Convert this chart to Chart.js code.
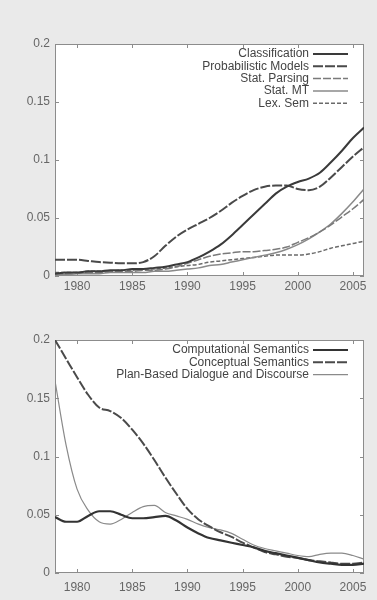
<!DOCTYPE html>
<html>
<head>
<meta charset="utf-8">
<script src="https://cdn.jsdelivr.net/npm/chart.js@4.4.1/dist/chart.umd.min.js"></script>
<style>
  html, body { margin: 0; padding: 0; background: #eaeaea; }
  .box { position: absolute; left: 0; width: 377px; height: 300px; }
  #top { top: 0; }
  #bottom { top: 300px; }
</style>
</head>
<body>
<div class="box" id="top"><canvas id="c1" width="377" height="300"></canvas></div>
<div class="box" id="bottom"><canvas id="c2" width="377" height="300"></canvas></div>
<script>
// years shared by both panels
const years = [1978,1979,1980,1981,1982,1983,1984,1985,1986,1987,1988,1989,1990,1991,1992,
  1993,1994,1995,1996,1997,1998,1999,2000,2001,2002,2003,2004,2005,2006];
const xTicks = [1980, 1985, 1990, 1995, 2000, 2005];
const yTicks = [0, 0.05, 0.1, 0.15, 0.2];

// top panel
const classification = [0.002,0.003,0.003,0.004,0.004,0.005,0.005,0.006,0.006,0.007,0.008,0.010,0.012,0.016,0.021,
  0.027,0.035,0.044,0.053,0.062,0.071,0.077,0.081,0.084,0.089,0.098,0.108,0.119,0.128];
const probModels = [0.014,0.014,0.014,0.013,0.012,0.0115,0.011,0.011,0.012,0.017,0.026,0.034,0.040,0.045,0.050,
  0.056,0.063,0.069,0.074,0.077,0.078,0.078,0.075,0.074,0.077,0.085,0.094,0.103,0.111];
const statParsing = [0.002,0.002,0.003,0.003,0.003,0.004,0.004,0.004,0.005,0.005,0.006,0.008,0.011,0.014,0.017,
  0.019,0.020,0.021,0.021,0.022,0.023,0.025,0.029,0.033,0.038,0.044,0.051,0.058,0.066];
const statMT = [0.001,0.001,0.002,0.002,0.002,0.003,0.003,0.003,0.003,0.004,0.004,0.005,0.006,0.007,0.009,
  0.010,0.012,0.014,0.016,0.018,0.020,0.023,0.027,0.032,0.038,0.045,0.054,0.064,0.075];
const lexSem = [0.003,0.003,0.003,0.004,0.004,0.004,0.005,0.005,0.006,0.006,0.007,0.008,0.009,0.010,0.012,
  0.013,0.014,0.015,0.016,0.017,0.018,0.018,0.018,0.019,0.021,0.024,0.026,0.028,0.030];

// bottom panel
const compSem = [0.048,0.044,0.044,0.049,0.053,0.053,0.050,0.047,0.047,0.048,0.049,0.045,0.039,0.034,0.030,
  0.028,0.026,0.024,0.022,0.019,0.017,0.015,0.013,0.011,0.009,0.008,0.007,0.007,0.008];
const conceptSem = [0.200,0.184,0.168,0.153,0.142,0.139,0.133,0.123,0.111,0.097,0.082,0.068,0.055,0.046,0.040,
  0.035,0.031,0.026,0.022,0.018,0.016,0.014,0.013,0.011,0.010,0.009,0.008,0.008,0.009];
const planBased = [0.165,0.110,0.072,0.054,0.044,0.042,0.046,0.052,0.057,0.058,0.052,0.049,0.046,0.042,0.039,
  0.037,0.034,0.029,0.024,0.021,0.019,0.017,0.015,0.014,0.016,0.017,0.017,0.015,0.012];

Chart.defaults.font.family = "'Liberation Sans', Arial, sans-serif";
Chart.defaults.font.size = 12;
Chart.defaults.color = '#666';

const pts = vals => vals.map((v, i) => ({ x: years[i], y: v }));
const series = (label, vals, color, width, dash) => ({
  label, data: pts(vals), borderColor: color, borderWidth: width, borderDash: dash || [],
  pointRadius: 0, fill: false, cubicInterpolationMode: 'monotone'
});

// white plot box, frame and inward tick marks
const frame = {
  id: 'frame',
  beforeDatasetsDraw(chart) {
    const { ctx, chartArea: a, scales: { x, y } } = chart;
    ctx.save();
    ctx.fillStyle = '#fff';
    ctx.fillRect(a.left, a.top, a.width, a.height);
    ctx.strokeStyle = '#8c8c8c';
    ctx.lineWidth = 1;
    ctx.strokeRect(a.left + 0.5, a.top + 0.5, a.width - 1, a.height - 1);
    ctx.beginPath();
    x.ticks.forEach(t => {
      const px = Math.round(x.getPixelForValue(t.value)) + 0.5;
      ctx.moveTo(px, a.bottom); ctx.lineTo(px, a.bottom - 4);
      ctx.moveTo(px, a.top); ctx.lineTo(px, a.top + 4);
    });
    y.ticks.forEach(t => {
      const py = Math.round(y.getPixelForValue(t.value)) + 0.5;
      ctx.moveTo(a.left, py); ctx.lineTo(a.left + 4, py);
      ctx.moveTo(a.right, py); ctx.lineTo(a.right - 4, py);
    });
    ctx.stroke();
    ctx.restore();
  }
};

// gnuplot-like key in the top right corner
const key = {
  id: 'key',
  afterDatasetsDraw(chart) {
    const { ctx, chartArea: a } = chart;
    const x2 = a.right - 16, x1 = x2 - 35;
    ctx.save();
    ctx.font = "12px 'Liberation Sans', Arial, sans-serif";
    ctx.textAlign = 'right';
    ctx.textBaseline = 'middle';
    chart.data.datasets.forEach((ds, i) => {
      const yy = a.top + 10 + i * 12.3;
      ctx.fillStyle = '#444';
      ctx.fillText(ds.label, x1 - 4, yy);
      ctx.strokeStyle = ds.borderColor;
      ctx.lineWidth = ds.borderWidth;
      ctx.setLineDash(ds.borderDash);
      ctx.beginPath(); ctx.moveTo(x1, yy); ctx.lineTo(x2, yy); ctx.stroke();
    });
    ctx.restore();
  }
};

function panelConfig(datasets, topPad, xHeight, xPad) {
  return {
    type: 'line',
    data: { datasets },
    options: {
      responsive: false, animation: false,
      layout: { padding: { top: topPad, right: 13, left: 0, bottom: 0 } },
      plugins: { legend: { display: false }, tooltip: { enabled: false } },
      scales: {
        x: {
          type: 'linear', min: 1978, max: 2006,
          afterBuildTicks: s => { s.ticks = xTicks.map(v => ({ value: v })); },
          afterFit: s => { s.height = xHeight; },
          grid: { display: false, drawTicks: false }, border: { display: false },
          ticks: { padding: xPad, maxRotation: 0, color: '#666', callback: v => String(v) }
        },
        y: {
          min: 0, max: 0.2,
          afterBuildTicks: s => { s.ticks = yTicks.map(v => ({ value: v })); },
          afterFit: s => { s.width = 55; },
          grid: { display: false, drawTicks: false }, border: { display: false },
          ticks: { padding: 5, color: '#666', callback: v => String(v) }
        }
      }
    },
    plugins: [frame, key]
  };
}

new Chart(document.getElementById('c1'), panelConfig([
  series('Classification', classification, '#3a3a3a', 2),
  series('Probabilistic Models', probModels, '#4a4a4a', 2, [10, 2]),
  series('Stat. Parsing', statParsing, '#7a7a7a', 1.5, [8, 2]),
  series('Stat. MT', statMT, '#8a8a8a', 1.5),
  series('Lex. Sem', lexSem, '#6a6a6a', 1.5, [4, 2])
], 44, 24, 3));

new Chart(document.getElementById('c2'), panelConfig([
  series('Computational Semantics', compSem, '#333', 2.2),
  series('Conceptual Semantics', conceptSem, '#4a4a4a', 2, [10, 2]),
  series('Plan-Based Dialogue and Discourse', planBased, '#8a8a8a', 1.2)
], 40, 27, 7));
</script>
</body>
</html>
